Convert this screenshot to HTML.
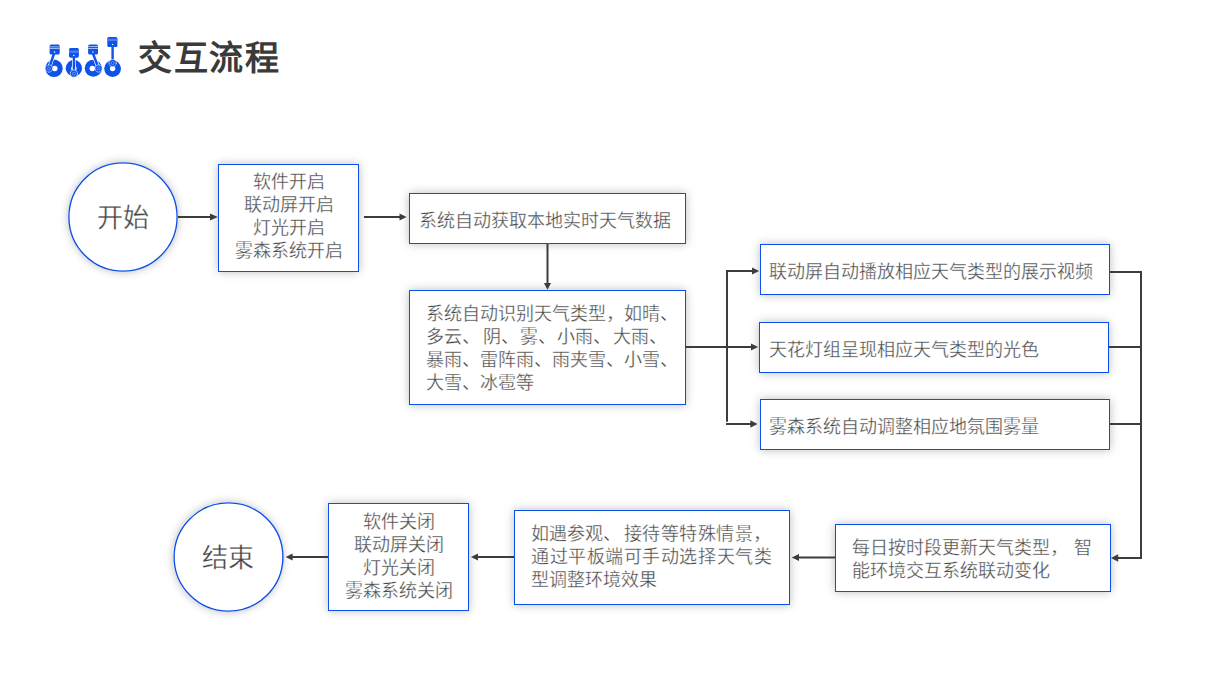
<!DOCTYPE html>
<html lang="zh-CN">
<head>
<meta charset="utf-8">
<style>
html,body{margin:0;padding:0;background:#fff;}
body{width:1226px;height:688px;position:relative;overflow:hidden;font-family:"Liberation Sans",sans-serif;color:#454545;}
.box{position:absolute;box-sizing:border-box;border:1px solid #0b4ee8;background:#fff;box-shadow:0 0 9px rgba(0,0,0,0.26);}
.circ{position:absolute;box-sizing:border-box;border-radius:50%;background:#fff;box-shadow:0 0 9px rgba(0,0,0,0.26);}
.t{position:absolute;font-size:18px;line-height:23px;white-space:nowrap;-webkit-text-stroke:0.3px #fff;}
.c{text-align:center;}
svg.lines{position:absolute;left:0;top:0;z-index:2;}
.t{z-index:3;}
.title{position:absolute;left:138px;top:33px;font-size:34px;letter-spacing:1.5px;font-weight:bold;color:#3a3a3a;line-height:50px;}
</style>
</head>
<body>
<svg class="lines" width="1226" height="688" viewBox="0 0 1226 688">
<defs>
<marker id="ah" markerWidth="10" markerHeight="10" refX="9" refY="5" orient="auto" markerUnits="userSpaceOnUse">
<path d="M0,1 L9,5 L0,9 Z" fill="#404040"/>
</marker>
</defs>

<g>
<circle cx="54.0" cy="68.3" r="8.7" fill="#0e52ea"/>
<circle cx="54.8" cy="68.5" r="2.7" fill="#fff"/>
<line x1="54.0" y1="53.5" x2="49.0" y2="68.5" stroke="#fff" stroke-width="3.8"/>
<line x1="54.0" y1="53.5" x2="49.0" y2="68.5" stroke="#0e52ea" stroke-width="2.4"/>
<circle cx="49.0" cy="68.5" r="3.6" fill="#0e52ea" stroke="#fff" stroke-width="0.9" stroke-dasharray="1.3 0.6"/>
<circle cx="49.0" cy="68.5" r="1.5" fill="none" stroke="#fff" stroke-width="0.5" opacity="0.7"/>
<rect x="49.6" y="44.6" width="10.1" height="9.9" rx="1.6" fill="#0e52ea"/>
<rect x="49.6" y="46.55" width="10.1" height="0.7" fill="#fff" opacity="0.85"/>
<rect x="49.6" y="48.25" width="10.1" height="0.7" fill="#fff" opacity="0.85"/>
<circle cx="54.5" cy="52.0" r="0.75" fill="#fff"/>
<circle cx="73.9" cy="68.3" r="8.2" fill="#0e52ea"/>
<circle cx="73.9" cy="68.5" r="2.7" fill="#fff"/>
<line x1="73.9" y1="56.5" x2="73.9" y2="73.6" stroke="#fff" stroke-width="3.8"/>
<line x1="73.9" y1="56.5" x2="73.9" y2="73.6" stroke="#0e52ea" stroke-width="2.4"/>
<circle cx="73.9" cy="73.6" r="3.6" fill="#0e52ea" stroke="#fff" stroke-width="0.9" stroke-dasharray="1.3 0.6"/>
<circle cx="73.9" cy="73.6" r="1.5" fill="none" stroke="#fff" stroke-width="0.5" opacity="0.7"/>
<rect x="69.0" y="48.1" width="9.9" height="9.6" rx="1.6" fill="#0e52ea"/>
<rect x="69.0" y="50.6" width="9.9" height="2.2" fill="#4a7ef2"/>
<circle cx="73.9" cy="55.4" r="0.75" fill="#fff"/>
<circle cx="93.3" cy="68.3" r="8.5" fill="#0e52ea"/>
<circle cx="92.3" cy="68.5" r="2.7" fill="#fff"/>
<line x1="93.0" y1="53.5" x2="98.6" y2="68.5" stroke="#fff" stroke-width="3.8"/>
<line x1="93.0" y1="53.5" x2="98.6" y2="68.5" stroke="#0e52ea" stroke-width="2.4"/>
<circle cx="98.6" cy="68.5" r="3.6" fill="#0e52ea" stroke="#fff" stroke-width="0.9" stroke-dasharray="1.3 0.6"/>
<circle cx="98.6" cy="68.5" r="1.5" fill="none" stroke="#fff" stroke-width="0.5" opacity="0.7"/>
<rect x="88.1" y="44.6" width="9.9" height="9.9" rx="1.6" fill="#0e52ea"/>
<rect x="88.1" y="46.35" width="9.9" height="0.7" fill="#fff" opacity="0.85"/>
<rect x="88.1" y="48.05" width="9.9" height="0.7" fill="#fff" opacity="0.85"/>
<circle cx="93.0" cy="51.9" r="0.75" fill="#fff"/>
<circle cx="112.6" cy="68.6" r="8.4" fill="#0e52ea"/>
<circle cx="112.6" cy="68.6" r="2.7" fill="#fff"/>
<line x1="112.6" y1="46.0" x2="112.6" y2="63.0" stroke="#fff" stroke-width="3.8"/>
<line x1="112.6" y1="46.0" x2="112.6" y2="63.0" stroke="#0e52ea" stroke-width="2.4"/>
<circle cx="112.6" cy="63.0" r="3.6" fill="#0e52ea" stroke="#fff" stroke-width="0.9" stroke-dasharray="1.3 0.6"/>
<circle cx="112.6" cy="63.0" r="1.5" fill="none" stroke="#fff" stroke-width="0.5" opacity="0.7"/>
<rect x="107.3" y="36.9" width="10.1" height="10.1" rx="1.6" fill="#0e52ea"/>
<rect x="107.3" y="38.8" width="10.1" height="2.2" fill="#4a7ef2"/>
<circle cx="112.6" cy="44.6" r="0.75" fill="#fff"/>
</g>
<g stroke="#0b4ee8" stroke-width="1.35" fill="none">
<circle cx="123" cy="217" r="54.1"/>
<ellipse cx="228.5" cy="557" rx="54.4" ry="54.1"/>
</g>
<g stroke="#3c3c3c" stroke-width="2" fill="none">
<path d="M178,217 H211"/>
<path d="M364,217 H401"/>
<path d="M547.5,244 V284"/>
<path d="M685,347 H752"/>
<path d="M727,270 V421.7"/>
<path d="M726,271 H753"/>
<path d="M726,424 H751"/>
<path d="M1110,272 H1141 V558 H1117"/>
<path d="M1109,347 H1141"/>
<path d="M1110,424 H1141"/>
<path d="M835,557.5 H798"/>
<path d="M514,557 H477"/>
<path d="M328,557 H292"/>
</g>
<g fill="#3c3c3c">
<path d="M217.8,217 L210,213.4 L210,220.6 Z"/>
<path d="M406.6,217 L399.5,213.4 L399.5,220.6 Z"/>
<path d="M547.5,289.8 L543.9,283 L551.1,283 Z"/>
<path d="M759.2,271 L752,267.4 L752,274.6 Z"/>
<path d="M758.2,347 L751,343.4 L751,350.6 Z"/>
<path d="M757.6,424 L750.3,420.3 L750.3,427.7 Z"/>
<path d="M1111,558 L1118.2,554.3 L1118.2,561.7 Z"/>
<path d="M791.8,557.5 L799,553.9 L799,561.1 Z"/>
<path d="M470.9,557 L478,553.4 L478,560.6 Z"/>
<path d="M285.6,557 L292.6,553.4 L292.6,560.6 Z"/>
</g>
</svg>

<div class="title">交互流程</div>

<div class="circ" style="left:68px;top:162px;width:110px;height:110px;"></div>
<div class="t c" style="left:68px;top:202.5px;width:110px;font-size:26px;line-height:30px;">开始</div>

<div class="box" style="left:218px;top:164px;width:141px;height:108px;"></div>
<div class="t c" style="left:218px;top:171px;width:141px;">软件开启<br>联动屏开启<br>灯光开启<br>雾森系统开启</div>

<div class="box" style="left:409px;top:193px;width:277px;height:51px;"></div>
<div class="t" style="left:419px;top:209.5px;">系统自动获取本地实时天气数据</div>

<div class="box" style="left:409px;top:290px;width:277px;height:115px;"></div>
<div class="t" style="left:426px;top:303px;">系统自动识别天气类型，如晴、<br>多云<span style="letter-spacing:3.2px">、</span>阴<span style="letter-spacing:1.1px">、</span>雾<span style="letter-spacing:1.1px">、</span>小雨<span style="letter-spacing:1.1px">、</span>大雨、<br>暴雨、雷阵雨、雨夹雪、小雪、<br>大雪、冰雹等</div>

<div class="box" style="left:760px;top:244px;width:350px;height:51px;"></div>
<div class="t" style="left:769px;top:260.5px;">联动屏自动播放相应天气类型的展示视频</div>

<div class="box" style="left:759px;top:322px;width:350px;height:51px;"></div>
<div class="t" style="left:768.5px;top:338.5px;">天花灯组呈现相应天气类型的光色</div>

<div class="box" style="left:760px;top:399px;width:350px;height:51px;"></div>
<div class="t" style="left:769px;top:416px;">雾森系统自动调整相应地氛围雾量</div>

<div class="box" style="left:835px;top:524px;width:276px;height:68px;"></div>
<div class="t" style="left:852px;top:537px;">每日按时段更新天气类型<span style="letter-spacing:6.3px">，</span>智<br>能环境交互系统联动变化</div>

<div class="box" style="left:514px;top:510px;width:276px;height:95px;"></div>
<div class="t" style="left:531px;top:523px;">如遇参观<span style="letter-spacing:3px">、</span><span style="letter-spacing:0.43px">接待等特殊情景</span>，<br><span style="letter-spacing:0.56px">通过平板端可手动选择天气类</span><br>型调整环境效果</div>

<div class="box" style="left:328px;top:503px;width:141px;height:108px;"></div>
<div class="t c" style="left:328px;top:510.5px;width:141px;">软件关闭<br>联动屏关闭<br>灯光关闭<br>雾森系统关闭</div>

<div class="circ" style="left:173px;top:502px;width:110px;height:110px;"></div>
<div class="t c" style="left:173px;top:543px;width:110px;font-size:26px;line-height:30px;">结束</div>

</body>
</html>
